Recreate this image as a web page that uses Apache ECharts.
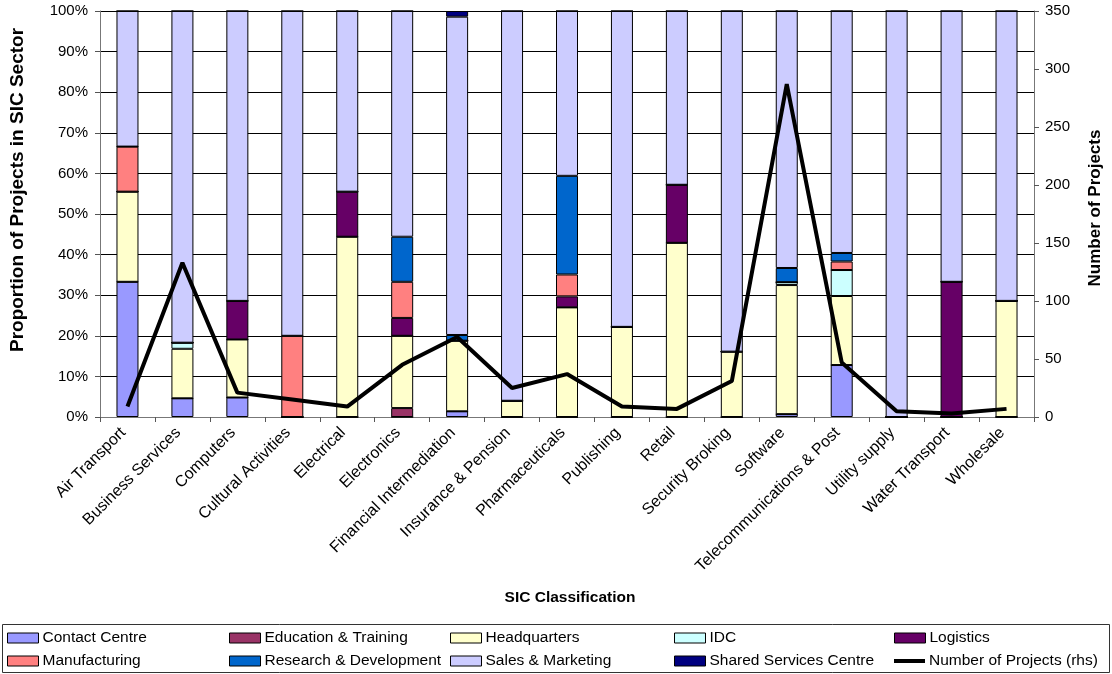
<!DOCTYPE html>
<html>
<head>
<meta charset="utf-8">
<script src="https://cdn.jsdelivr.net/npm/echarts@6/dist/echarts.min.js"></script>
<style>
  html, body { margin: 0; padding: 0; background: #fff; }
  #chart { width: 1112px; height: 674px; }
</style>
</head>
<body>
<div id="chart"></div>
<script>
// SIC sectors on the category axis
const categories = [
  'Air Transport', 'Business Services', 'Computers', 'Cultural Activities',
  'Electrical', 'Electronics', 'Financial Intermediation', 'Insurance & Pension',
  'Pharmaceuticals', 'Publishing', 'Retail', 'Security Broking', 'Software',
  'Telecommunications & Post', 'Utility supply', 'Water Transport', 'Wholesale'
];

// Share of projects in each sector by function (%), stacked bottom to top
const contactCentre   = [33.3, 4.6, 4.8, 0, 0, 0, 1.4, 0, 0, 0, 0, 0, 0.7, 12.8, 0, 0, 0];
const education       = [0, 0, 0, 0, 0, 2.2, 0, 0, 0, 0, 0, 0, 0, 0, 0, 0, 0];
const headquarters    = [22.2, 12.2, 14.3, 0, 44.4, 17.8, 17.4, 4.0, 27.0, 22.2, 42.9, 16.1, 31.8, 17.0, 0, 0, 28.6];
const idc             = [0, 1.5, 0, 0, 0, 0, 0, 0, 0, 0, 0, 0, 0.7, 6.4, 0, 0, 0];
const logistics       = [0, 0, 9.5, 0, 11.1, 4.4, 0, 0, 2.7, 0, 14.3, 0, 0, 0, 0, 33.3, 0];
const manufacturing   = [11.1, 0, 0, 20.0, 0, 8.9, 0, 0, 5.4, 0, 0, 0, 0, 2.1, 0, 0, 0];
const researchDev     = [0, 0, 0, 0, 0, 11.1, 1.4, 0, 24.3, 0, 0, 0, 3.5, 2.1, 0, 0, 0];
const salesMarketing  = [33.4, 81.7, 71.4, 80.0, 44.5, 55.6, 78.4, 96.0, 40.6, 77.8, 42.8, 83.9, 63.3, 59.6, 100, 66.7, 71.4];
const sharedServices  = [0, 0, 0, 0, 0, 0, 1.4, 0, 0, 0, 0, 0, 0, 0, 0, 0, 0];

// Number of projects per sector (right-hand axis)
const projectCounts = [9, 133, 21, 15, 9, 45, 69, 25, 37, 9, 7, 31, 287, 47, 5, 3, 7];

// Axis tick values
const pctTicks = { min: 0, max: 100, interval: 10 };
const countTicks = { min: 0, max: 350, interval: 50 };

const FONT = '"Liberation Sans", Arial, sans-serif';

const stackDefs = [
  ['Contact Centre', contactCentre, '#9999FF'],
  ['Education & Training', education, '#993366'],
  ['Headquarters', headquarters, '#FFFFCC'],
  ['IDC', idc, '#CCFFFF'],
  ['Logistics', logistics, '#660066'],
  ['Manufacturing', manufacturing, '#FF8080'],
  ['Research & Development', researchDev, '#0066CC'],
  ['Sales & Marketing', salesMarketing, '#CCCCFF'],
  ['Shared Services Centre', sharedServices, '#000080']
];

const barSeries = stackDefs.map(([name, data, color]) => ({
  name,
  type: 'bar',
  stack: 'share',
  barWidth: 22,
  yAxisIndex: 0,
  data,
  itemStyle: { color, borderColor: '#000', borderWidth: 1 },
  emphasis: { disabled: true }
}));

const LINE_NAME = 'Number of Projects (rhs)';
const lineSeries = {
  name: LINE_NAME,
  type: 'line',
  yAxisIndex: 1,
  data: projectCounts,
  symbol: 'none',
  lineStyle: { color: '#000', width: 4 },
  itemStyle: { color: '#000' },
  z: 10
};

// Legend entries on a 5 x 2 grid: [name, left, row]
const legendSlots = [
  ['Contact Centre', 7, 0], ['Education & Training', 229, 0], ['Headquarters', 450, 0],
  ['IDC', 674, 0], ['Logistics', 894, 0],
  ['Manufacturing', 7, 1], ['Research & Development', 229, 1], ['Sales & Marketing', 450, 1],
  ['Shared Services Centre', 674, 1], [LINE_NAME, 894, 1]
];
const rowTops = [630, 653];

const legends = legendSlots.map(([name, left, row]) => ({
  left,
  top: rowTops[row],
  padding: 0,
  itemWidth: 31,
  itemHeight: 10,
  selectedMode: false,
  data: [name === LINE_NAME
    ? { name, icon: 'path://M0,0 L31,0 L31,4 L0,4 Z', itemStyle: { color: '#000' } }
    : { name, icon: 'rect', itemStyle: { borderColor: '#000', borderWidth: 1 } }],
  textStyle: { fontFamily: FONT, fontSize: 15.5, color: '#000', padding: [0, 0, 0, -1] }
}));

const chart = echarts.init(document.getElementById('chart'), null, { renderer: 'canvas' });

chart.setOption({
  animation: false,
  backgroundColor: '#fff',
  textStyle: { fontFamily: FONT },
  grid: { left: 100, right: 66, top: 11, bottom: 257, containLabel: false },
  legend: legends,
  graphic: [{
    type: 'rect',
    shape: { x: 2.5, y: 624.5, width: 1107, height: 48 },
    style: { fill: 'none', stroke: '#333', lineWidth: 1 },
    silent: true
  }],
  xAxis: {
    type: 'category',
    data: categories,
    name: 'SIC Classification',
    nameLocation: 'middle',
    nameGap: 173,
    nameTextStyle: { fontFamily: FONT, fontSize: 15.5, fontWeight: 'bold', color: '#000', padding: [0, 0, 0, 6] },
    axisLine: { lineStyle: { color: '#777', width: 1 } },
    axisTick: { show: true, length: 5, lineStyle: { color: '#555' } },
    axisLabel: { rotate: 45, fontFamily: FONT, fontSize: 16, color: '#000', margin: 9, interval: 0, padding: [0, 6, 0, 0] },
    splitLine: { show: false }
  },
  yAxis: [
    {
      type: 'value',
      min: pctTicks.min,
      max: pctTicks.max,
      interval: pctTicks.interval,
      name: 'Proportion of Projects in SIC Sector',
      nameLocation: 'middle',
      nameGap: 73,
      nameRotate: 90,
      nameTextStyle: { fontFamily: FONT, fontSize: 19, fontWeight: 'bold', color: '#000', padding: [0, 0, 0, 48] },
      axisLine: { show: true, lineStyle: { color: '#777', width: 1 } },
      axisTick: { show: true, length: 5, lineStyle: { color: '#555' } },
      axisLabel: { formatter: '{value}%', fontFamily: FONT, fontSize: 15, color: '#000', margin: 12 },
      splitLine: { show: true, lineStyle: { color: '#000', width: 1 } }
    },
    {
      type: 'value',
      position: 'right',
      min: countTicks.min,
      max: countTicks.max,
      interval: countTicks.interval,
      name: 'Number of Projects',
      nameLocation: 'middle',
      nameGap: 53,
      nameRotate: 90,
      nameTextStyle: { fontFamily: FONT, fontSize: 17, fontWeight: 'bold', color: '#000', padding: [0, 0, 0, 12] },
      axisLine: { show: true, lineStyle: { color: '#777', width: 1 } },
      axisTick: { show: true, length: 5, lineStyle: { color: '#555' } },
      axisLabel: { fontFamily: FONT, fontSize: 15, color: '#000', margin: 11 },
      splitLine: { show: false }
    }
  ],
  series: [...barSeries, lineSeries]
});
</script>
</body>
</html>
